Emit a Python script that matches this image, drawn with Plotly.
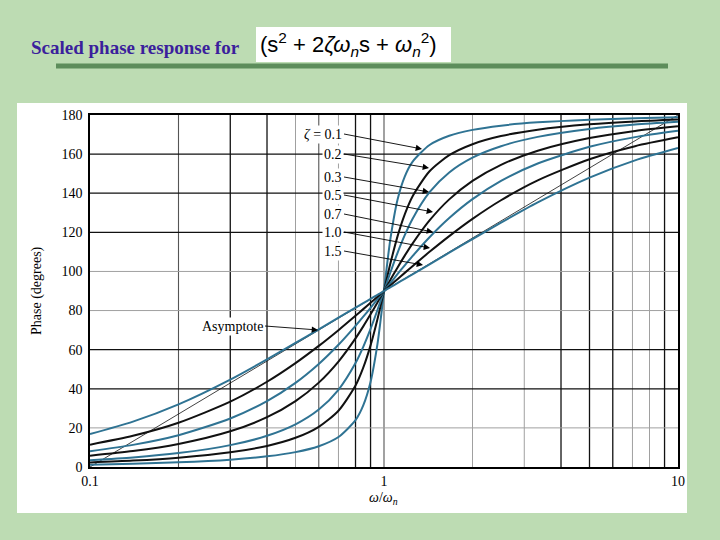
import plotly.graph_objects as go

# ---------------- data ----------------
freq = [0.1, 0.14, 0.2, 0.3, 0.4, 0.5, 0.6, 0.7, 0.8, 0.85, 0.9, 0.95, 0.97, 0.99, 1.0,
        1.0101, 1.0309, 1.0526, 1.1111, 1.1765, 1.25, 1.4286, 1.6667, 2.0, 2.5, 3.3333,
        5.0, 7.1429, 10.0]

phase_z01 = [1.16, 1.64, 2.39, 3.77, 5.44, 7.60, 10.62, 15.35, 23.96, 31.49, 43.45, 62.83, 73.06, 84.26, 90.0,
             95.74, 106.94, 117.17, 136.55, 148.51, 156.04, 164.65, 169.38, 172.40, 174.56, 176.23, 177.61, 178.36, 178.84]
phase_z02 = [2.31, 3.27, 4.76, 7.51, 10.78, 14.93, 20.56, 28.77, 41.63, 50.79, 62.18, 75.61, 81.34, 87.12, 90.0,
             92.88, 98.66, 104.39, 117.82, 129.21, 138.37, 151.23, 159.44, 165.07, 169.22, 172.49, 175.24, 176.73, 177.69]
phase_z03 = [3.47, 4.90, 7.13, 11.19, 15.95, 21.80, 29.36, 39.47, 53.13, 61.45, 70.61, 80.29, 84.20, 88.08, 90.0,
             91.92, 95.80, 99.71, 109.39, 118.55, 126.87, 140.53, 150.64, 158.20, 164.05, 168.81, 172.87, 175.10, 176.53]
phase_z05 = [5.77, 8.13, 11.77, 18.25, 25.46, 33.69, 43.15, 53.92, 65.77, 71.92, 78.08, 84.14, 86.51, 88.85, 90.0,
             91.15, 93.49, 95.86, 101.92, 108.08, 114.23, 126.08, 136.85, 146.31, 154.54, 161.75, 168.23, 171.87, 174.23]
phase_z07 = [8.05, 11.31, 16.26, 24.78, 33.69, 43.03, 52.70, 62.50, 72.18, 76.87, 81.42, 85.81, 87.51, 89.18, 90.0,
             90.82, 92.49, 94.19, 98.58, 103.13, 107.82, 117.50, 127.30, 136.97, 146.31, 155.22, 163.74, 168.69, 171.95]
phase_z10 = [11.42, 15.94, 22.62, 33.40, 43.60, 53.13, 61.93, 69.98, 77.32, 80.73, 83.97, 87.06, 88.26, 89.42, 90.0,
             90.58, 91.74, 92.94, 96.03, 99.27, 102.68, 110.02, 118.07, 126.87, 136.40, 146.60, 157.38, 164.06, 168.58]
phase_z15 = [16.86, 23.19, 32.01, 44.68, 55.01, 63.43, 70.43, 76.35, 81.47, 83.79, 85.97, 88.04, 88.84, 89.62, 90.0,
             90.38, 91.16, 91.96, 94.03, 96.21, 98.53, 103.65, 109.57, 116.57, 124.99, 135.32, 147.99, 156.81, 163.14]

asym_freq = [0.1, 10.0]
asym_phase = [0.0, 180.0]

zeta_labels = ["<i>ζ</i> = 0.1", "0.2", "0.3", "0.5", "0.7", "1.0", "1.5"]
x_tick_vals = [0.1, 1, 10]
x_tick_text = ["0.1", "1", "10"]
y_tick_vals = [0, 20, 40, 60, 80, 100, 120, 140, 160, 180]

# grid lines: (value, tone)
x_grid = [(0.2, 'mid'), (0.3, 'dark'), (0.4, 'dark'), (0.5, 'light'), (0.6, 'mid'), (0.7, 'light'),
          (0.8, 'dark'), (0.9, 'dark'), (1, 'mid'), (2, 'light'), (3, 'light'), (4, 'dark'),
          (5, 'dark'), (6, 'dark'), (7, 'light'), (8, 'light'), (9, 'dark')]
y_grid = [(20, 'light'), (40, 'dark'), (60, 'dark'), (80, 'light'), (100, 'light'),
          (120, 'dark'), (140, 'dark'), (160, 'dark')]

# ---------------- styling ----------------
TEAL = '#2f7393'
BLACK = '#111111'
SERIF = 'Liberation Serif'
BG = '#bddcb3'
series = [(phase_z01, TEAL), (phase_z02, BLACK), (phase_z03, TEAL), (phase_z05, BLACK),
          (phase_z07, TEAL), (phase_z10, BLACK), (phase_z15, TEAL)]

# pixel helpers (plot area 90..678 x 115..467)
L, R, T, B = 90, 678, 115, 467
def pxx(x):
    return (x - L) / (R - L)
def pxy(y):
    return (B - y) / (B - T)
def logx_of(xpix):
    return -1 + 2 * (xpix - L) / (R - L)
def val_of(ypix):
    return (B - ypix) * 180 / (B - T)

fig = go.Figure()

fig.add_trace(go.Scatter(x=asym_freq, y=asym_phase, mode='lines',
                         line=dict(color=BLACK, width=0.8), hoverinfo='skip'))
for vals, col in series:
    fig.add_trace(go.Scatter(x=freq, y=vals, mode='lines',
                             line=dict(color=col, width=2, shape='spline', smoothing=0.7),
                             hoverinfo='skip'))

shapes = []
shapes.append(dict(type='rect', xref='paper', yref='paper', x0=pxx(17), x1=pxx(687),
                   y0=pxy(513), y1=pxy(103), fillcolor='white', line=dict(width=0), layer='below'))
shapes.append(dict(type='rect', xref='paper', yref='paper', x0=pxx(256), x1=pxx(451),
                   y0=pxy(62), y1=pxy(27), fillcolor='white', line=dict(width=0), layer='below'))
shapes.append(dict(type='line', xref='paper', yref='paper', x0=pxx(56), x1=pxx(668),
                   y0=pxy(66), y1=pxy(66), line=dict(color='#5d8d5b', width=5), layer='below'))

gcol = {'dark': ('#111111', 1.3), 'mid': ('#555555', 1.1), 'light': ('#a0a0a0', 1.0)}
for v, k in x_grid:
    c, w = gcol[k]
    shapes.append(dict(type='line', xref='x', yref='paper', x0=v, x1=v, y0=0, y1=1,
                       line=dict(color=c, width=w), layer='below'))
for v, k in y_grid:
    c, w = gcol[k]
    shapes.append(dict(type='line', xref='paper', yref='y', x0=0, x1=1, y0=v, y1=v,
                       line=dict(color=c, width=w), layer='below'))

annotations = []
annotations.append(dict(xref='paper', yref='paper', x=pxx(29), y=pxy(47), xanchor='left', yanchor='middle',
                        text='<b>Scaled phase response for</b>', showarrow=False,
                        font=dict(family=SERIF, size=19, color='#3b1f9c')))
annotations.append(dict(xref='paper', yref='paper', x=pxx(258), y=pxy(45), xanchor='left', yanchor='middle',
                        text='(s<sup>2</sup> + 2<i>ζω<sub>n</sub></i>s + <i>ω<sub>n</sub></i><sup>2</sup>)',
                        showarrow=False, font=dict(family='Liberation Sans', size=22, color='black')))
annotations.append(dict(xref='paper', yref='paper', x=pxx(37), y=0.5, xanchor='center', yanchor='middle',
                        textangle=-90, text='Phase (degrees)', showarrow=False,
                        font=dict(family=SERIF, size=14, color='black')))
annotations.append(dict(xref='paper', yref='paper', x=pxx(383), y=pxy(488), xanchor='center', yanchor='top',
                        text='<i>ω</i>/<i>ω<sub>n</sub></i>', showarrow=False,
                        font=dict(family=SERIF, size=14, color='black')))

tails = [(344, 134), (344, 154), (344, 177), (344, 195), (344, 214), (344, 232), (344, 251)]
heads = [(422, 149), (429, 168), (429, 192), (433, 212), (433, 232), (430, 248), (423, 265)]
for lab, (tx, ty), (hx, hy) in zip(zeta_labels, tails, heads):
    annotations.append(dict(x=logx_of(hx), y=val_of(hy), xref='x', yref='y',
                            ax=tx - hx, ay=ty - hy, text=lab, xanchor='right', yanchor='middle',
                            bgcolor='white', borderpad=1,
                            showarrow=True, arrowhead=2, arrowsize=1.4, arrowwidth=0.9,
                            arrowcolor='black', font=dict(family=SERIF, size=14, color='black')))
annotations.append(dict(x=logx_of(318), y=val_of(330), xref='x', yref='y',
                        ax=265 - 318, ay=326 - 330, text='Asymptote', xanchor='right', yanchor='middle',
                        bgcolor='white', borderpad=1,
                        showarrow=True, arrowhead=2, arrowsize=1.4, arrowwidth=0.9,
                        arrowcolor='black', font=dict(family=SERIF, size=14, color='black')))

fig.update_layout(
    width=720, height=540,
    margin=dict(l=L, r=720 - R, t=T, b=540 - B),
    paper_bgcolor=BG, plot_bgcolor='white',
    showlegend=False, shapes=shapes, annotations=annotations,
)
fig.update_xaxes(type='log', range=[-1, 1], showgrid=False, zeroline=False,
                 showline=True, mirror=True, linecolor='black', linewidth=1.5,
                 tickvals=x_tick_vals, ticktext=x_tick_text, ticks='',
                 tickfont=dict(family=SERIF, size=14, color='black'))
fig.update_yaxes(range=[0, 180], showgrid=False, zeroline=False,
                 showline=True, mirror=True, linecolor='black', linewidth=1.5,
                 tickvals=y_tick_vals, ticks='outside', ticklen=3,
                 tickcolor='rgba(0,0,0,0)', tickfont=dict(family=SERIF, size=14, color='black'))

fig.write_html("out.html", config={'displayModeBar': False},
               post_script="document.body.style.margin='0';document.body.style.background='%s';" % BG)
